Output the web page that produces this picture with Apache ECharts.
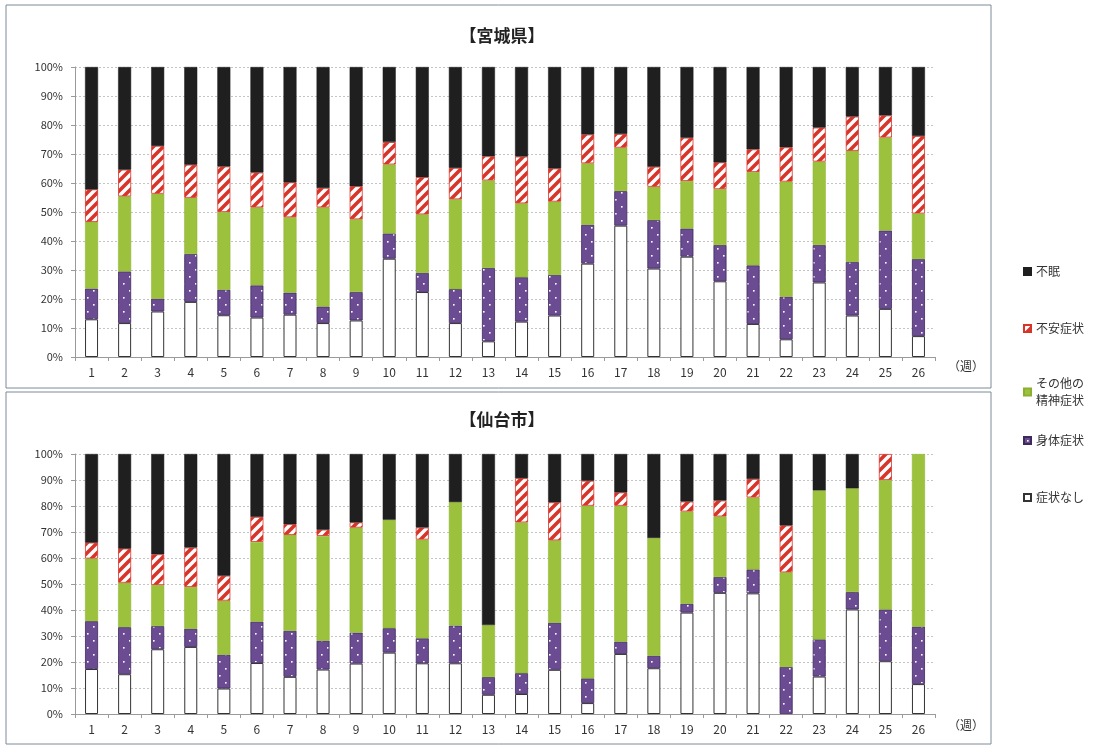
<!DOCTYPE html>
<html><head><meta charset="utf-8">
<script src="https://cdn.jsdelivr.net/npm/echarts@6.0.0/dist/echarts.min.js"></script>
<style>html,body{margin:0;padding:0;background:#fff}#c{width:1110px;height:746px}</style>
</head><body><div id="c"></div>
<script>
const weeks = ['1','2','3','4','5','6','7','8','9','10','11','12','13','14','15','16','17','18','19','20','21','22','23','24','25','26'];
const yTicks = [0,10,20,30,40,50,60,70,80,90,100];
const seriesNames = ['症状なし','身体症状','その他の精神症状','不安症状','不眠'];

// 宮城県 (%)
const miyagiNone     = [13.0,11.7,15.7,19.0,14.4,13.6,14.6,11.7,12.6,33.9,22.4,11.7,5.4,12.2,14.3,32.2,45.3,30.5,34.6,26.1,11.4,6.1,25.7,14.3,16.6,7.2];
const miyagiPhysical = [10.6,17.8,4.4,16.5,8.8,11.1,7.6,5.7,9.8,8.7,6.6,11.7,25.3,15.3,14.0,13.4,11.9,16.7,9.7,12.5,20.2,14.7,12.9,18.5,27.0,26.6];
const miyagiOther    = [23.0,25.9,36.2,19.4,26.8,26.9,26.0,34.2,25.1,23.8,20.2,31.0,30.2,25.5,25.3,21.2,15.0,11.5,16.4,19.3,32.2,39.7,28.8,38.3,32.1,15.7];
const miyagiAnxiety  = [11.2,9.2,16.5,11.4,15.7,12.0,12.0,6.7,11.4,7.7,12.8,10.8,8.3,16.1,11.4,9.9,4.7,6.9,14.9,9.2,7.8,11.8,11.7,11.8,7.6,26.7];
const miyagiInsomnia = [42.2,35.4,27.2,33.7,34.3,36.4,39.8,41.7,41.1,25.9,38.0,34.8,30.8,30.9,35.0,23.3,23.1,34.4,24.4,32.9,28.4,27.7,20.9,17.1,16.7,23.8];

// 仙台市 (%)
const sendaiNone     = [17.3,15.3,24.9,25.8,9.8,19.6,14.3,17.1,19.4,23.6,19.5,19.5,7.4,7.7,17.0,4.2,23.1,17.6,39.0,46.6,46.4,0,14.4,40.2,20.3,11.5];
const sendaiPhysical = [18.4,18.1,8.9,7.0,13.0,15.9,17.7,11.1,11.9,9.4,9.6,14.5,6.8,8.0,18.1,9.5,4.7,4.8,3.4,6.1,9.2,18.1,14.3,6.7,19.9,22.1];
const sendaiOther    = [24.1,17.1,15.8,16.1,20.8,30.7,36.9,40.3,40.4,41.7,38.0,47.5,20.0,58.0,31.7,66.4,52.3,45.3,35.5,23.3,27.7,36.4,57.3,39.9,49.8,66.4];
const sendaiAnxiety  = [6.1,13.1,11.8,15.1,9.6,9.6,4.1,2.4,2.0,0,4.6,0,0,17.0,14.6,9.6,5.1,0,3.8,6.1,7.1,18.0,0,0,10.0,0];
const sendaiInsomnia = [34.1,36.4,38.6,36.0,46.8,24.2,27.0,29.1,26.3,25.3,28.3,18.5,65.8,9.3,18.6,10.3,14.8,32.3,18.3,17.9,9.6,27.5,14.0,13.2,0,0];

function makeHatch(){
  const c=document.createElement('canvas');c.width=10;c.height=10;
  const g=c.getContext('2d');g.fillStyle='#fff';g.fillRect(0,0,10,10);
  g.strokeStyle='#d8342a';g.lineWidth=3.6;g.lineCap='square';
  [[0,10,10,0],[-10,10,10,-10],[0,20,20,0]].forEach(l=>{g.beginPath();g.moveTo(l[0],l[1]);g.lineTo(l[2],l[3]);g.stroke();});
  return c;
}
function makeDots(){
  const c=document.createElement('canvas');c.width=12;c.height=14;
  const g=c.getContext('2d');g.fillStyle='#6b4c93';g.fillRect(0,0,12,14);
  g.fillStyle='#ffffff';g.fillRect(3,3,1.6,1.6);g.fillRect(9,10,1.6,1.6);
  return c;
}
const hatch={image:makeHatch(),repeat:'repeat'};
const dots={image:makeDots(),repeat:'repeat'};

const styles=[
  {color:'#ffffff',borderColor:'#333',borderWidth:1},
  {color:dots,borderColor:'#3d2a5a',borderWidth:0.8},
  {color:'#9cc23d',borderColor:'#8bb030',borderWidth:0.5},
  {color:hatch,borderColor:'#d8342a',borderWidth:0.8},
  {color:'#1f1f1f',borderColor:'#1f1f1f',borderWidth:0.5}
];
const dataTop=[miyagiNone,miyagiPhysical,miyagiOther,miyagiAnxiety,miyagiInsomnia];
const dataBot=[sendaiNone,sendaiPhysical,sendaiOther,sendaiAnxiety,sendaiInsomnia];

const font='"Noto Sans CJK JP","Noto Sans",sans-serif';
function xAx(gi){return {type:'category',gridIndex:gi,data:weeks,
  axisLine:{lineStyle:{color:'#9a9a9a'}},
  axisTick:{show:true,length:4,lineStyle:{color:'#9a9a9a'}},
  axisLabel:{color:'#333',fontSize:12,margin:9,fontFamily:font}};}
function yAx(gi){return {type:'value',gridIndex:gi,min:yTicks[0],max:yTicks[yTicks.length-1],interval:10,
  axisLine:{show:true,lineStyle:{color:'#9a9a9a'}},
  axisTick:{show:true,length:4,lineStyle:{color:'#9a9a9a'}},
  axisLabel:{color:'#333',fontSize:11,margin:12,formatter:'{value}%',fontFamily:font},
  splitLine:{show:true,lineStyle:{color:'#c4c4c4',type:[2,2]}}};}

const series=[];
[dataTop,dataBot].forEach((ds,gi)=>{
  ds.forEach((d,i)=>{
    series.push({name:seriesNames[i],type:'bar',stack:'s'+gi,xAxisIndex:gi,yAxisIndex:gi,
      barWidth:13,data:d.map(v=>v===0?'-':v),itemStyle:styles[i],emphasis:{disabled:true},animation:false});
  });
});

const legendTops=[{n:'不眠',t:258},{n:'不安症状',t:315},{n:'その他の精神症状',t:370},{n:'身体症状',t:427},{n:'症状なし',t:484}];
const legends=legendTops.map(o=>({left:1018,top:o.t,orient:'vertical',data:[{name:o.n,icon:'rect'}],itemWidth:7,itemHeight:7,itemGap:4,
  selectedMode:false,
  formatter:n=>n==='その他の精神症状'?'その他の\n精神症状':n,
  textStyle:{color:'#333',fontSize:12,fontFamily:font,lineHeight:17}}));

const chart=echarts.init(document.getElementById('c'),null,{renderer:'canvas'});
chart.setOption({
  backgroundColor:'#fff',
  animation:false,
  title:[
    {text:'【宮城県】',left:497,top:22,textAlign:'center',textStyle:{fontSize:17,fontWeight:'bold',color:'#222',fontFamily:font}},
    {text:'【仙台市】',left:497,top:406,textAlign:'center',textStyle:{fontSize:17,fontWeight:'bold',color:'#222',fontFamily:font}}
  ],
  legend:legends,
  grid:[
    {left:75,width:860,top:67,height:290},
    {left:75,width:860,top:454,height:260}
  ],
  xAxis:[xAx(0),xAx(1)],
  yAxis:[yAx(0),yAx(1)],
  series:series,
  graphic:[
    {type:'rect',shape:{x:6,y:5,width:985,height:383},style:{fill:'none',stroke:'#7d8c99',lineWidth:1}},
    {type:'rect',shape:{x:6,y:392,width:985,height:352},style:{fill:'none',stroke:'#7d8c99',lineWidth:1}},
    {type:'text',left:948,top:360,style:{text:'（週）',fill:'#333',font:'12px '+font}},
    {type:'text',left:948,top:719,style:{text:'（週）',fill:'#333',font:'12px '+font}}
  ]
});
</script></body></html>
